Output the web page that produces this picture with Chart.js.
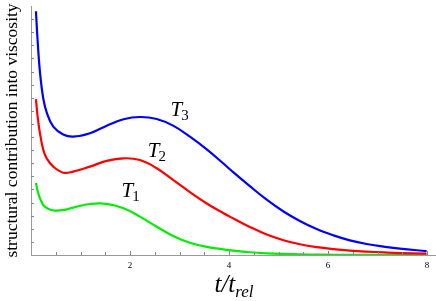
<!DOCTYPE html>
<html>
<head>
<meta charset="utf-8">
<script src="https://cdn.jsdelivr.net/npm/chart.js@4/dist/chart.umd.min.js"></script>
<style>
  html, body { margin: 0; padding: 0; background: #fff; }
  #wrap { width: 436px; height: 301px; }
</style>
</head>
<body>
<div id="wrap"><canvas id="myChart"></canvas></div>
<script>
// t / t_rel sample points
var tValues = [0.1, 0.13, 0.18, 0.25, 0.32, 0.45, 0.65, 0.85, 1.19, 1.53, 1.87, 2.2, 2.54, 2.87, 3.21, 3.55, 3.88, 4.09, 4.42, 4.76, 5.1, 5.43, 5.77, 6.11, 6.44, 6.78, 7.12, 7.45, 7.99];

var t1Values = [5.5, 4.95, 4.33, 3.8, 3.58, 3.4, 3.42, 3.61, 3.89, 3.9, 3.56, 2.93, 2.16, 1.45, 0.94, 0.62, 0.43, 0.33, 0.21, 0.13, 0.08, 0.05, 0.03, 0.02, 0.01, 0.01, 0.0, 0.0, 0.0];
var t2Values = [11.9, 10.7, 9.3, 8.0, 7.35, 6.74, 6.28, 6.36, 6.74, 7.18, 7.38, 7.25, 6.62, 5.73, 4.8, 3.93, 3.2, 2.78, 2.14, 1.56, 1.13, 0.82, 0.6, 0.45, 0.34, 0.26, 0.2, 0.15, 0.1];
var t3Values = [18.6, 16.6, 14.0, 11.9, 10.85, 9.8, 9.2, 9.03, 9.29, 9.87, 10.36, 10.53, 10.38, 9.87, 9.03, 8.06, 7.0, 6.3, 5.25, 4.22, 3.32, 2.6, 1.98, 1.5, 1.12, 0.84, 0.64, 0.48, 0.3];

var seriesNames = ['1', '2', '3'];
var xTickLabels = [2, 4, 6, 8];

// where the T_i labels sit, in data units (left edge, baseline)
var labelAnchors = [
    { t: 1.83, v: 4.43 },
    { t: 2.36, v: 7.5 },
    { t: 2.82, v: 10.61 }
];

function toPoints(ys) {
    var pts = [];
    for (var i = 0; i < tValues.length; i++) {
        pts.push({ x: tValues[i], y: ys[i] });
    }
    return pts;
}

var serif = "'Liberation Serif', 'Times New Roman', serif";

var extras = {
    id: 'extras',
    afterDraw: function(chart) {
        var c = chart.ctx;
        var xs = chart.scales.x, ys = chart.scales.y;
        var area = chart.chartArea;
        c.save();
        c.strokeStyle = '#888';
        c.lineWidth = 1;
        // inward tick marks on x axis
        for (var t = 0.5; t <= 8.01; t += 0.5) {
            var px = Math.round(xs.getPixelForValue(t)) + 0.5;
            var len = xTickLabels.indexOf(t) >= 0 ? 4 : 3;
            c.beginPath();
            c.moveTo(px, area.bottom);
            c.lineTo(px, area.bottom - len);
            c.stroke();
        }
        // inward tick marks on y axis
        for (var v = 1; v <= 18; v++) {
            var py = Math.round(ys.getPixelForValue(v)) + 0.5;
            c.beginPath();
            c.moveTo(area.left, py);
            c.lineTo(area.left + 3, py);
            c.stroke();
        }

        // T_i labels
        c.fillStyle = '#000';
        c.textBaseline = 'alphabetic';
        for (var i = 0; i < labelAnchors.length; i++) {
            var lx = xs.getPixelForValue(labelAnchors[i].t);
            var ly = ys.getPixelForValue(labelAnchors[i].v);
            c.font = 'italic 21px ' + serif;
            c.fillText('T', lx, ly);
            var w = c.measureText('T').width;
            c.font = '15px ' + serif;
            c.fillText(seriesNames[i], lx + w - 1, ly + 4);
        }

        // x axis title t/t_rel
        var big = 'italic 25px ' + serif, small = 'italic 17px ' + serif;
        c.font = big;
        var w1 = c.measureText('t/t').width;
        c.font = small;
        var w2 = c.measureText('rel').width;
        var cx = (area.left + area.right) / 2 + 1;
        var sx = cx - (w1 + w2) / 2;
        c.font = big;
        c.fillText('t/t', sx, 292);
        c.font = small;
        c.fillText('rel', sx + w1, 297);
        c.restore();
    }
};

function lineSet(label, values, colour) {
    return {
        label: label,
        data: toPoints(values),
        borderColor: colour,
        borderWidth: 2.2,
        showLine: true,
        pointRadius: 0,
        tension: 0.4
    };
}

var graphData = {
    type: 'scatter',
    data: {
        datasets: [
            lineSet('T3', t3Values, '#0000ff'),
            lineSet('T2', t2Values, '#ff0000'),
            lineSet('T1', t1Values, '#00ee00')
        ]
    },
    options: {
        responsive: true,
        maintainAspectRatio: false,
        animation: false,
        layout: { padding: { top: 6, right: 1, left: 0, bottom: 0 } },
        plugins: { legend: { display: false }, tooltip: { enabled: false } },
        scales: {
            x: {
                type: 'linear',
                min: 0,
                max: 8.16,
                afterFit: function(s) { s.height = 46; },
                grid: { display: false, drawTicks: false },
                border: { display: true, color: '#999', width: 1 },
                ticks: {
                    stepSize: 2,
                    includeBounds: false,
                    autoSkip: false,
                    maxRotation: 0,
                    padding: 5,
                    color: '#000',
                    font: { family: serif, size: 9 },
                    callback: function(val) { return xTickLabels.indexOf(val) >= 0 ? String(val) : ''; }
                }
            },
            y: {
                type: 'linear',
                min: 0,
                max: 19,
                afterFit: function(s) { s.width = 31; },
                grid: { display: false, drawTicks: false },
                border: { display: true, color: '#999', width: 1 },
                ticks: { display: false },
                title: {
                    display: true,
                    text: 'structural contribution into viscosity',
                    color: '#000',
                    font: { family: serif, size: 17.5 },
                    padding: { top: 2, bottom: 0 }
                }
            }
        }
    },
    plugins: [extras]
};

var ctx = document.getElementById('myChart');
var myChart = new Chart(ctx, graphData);
</script>
</body>
</html>
